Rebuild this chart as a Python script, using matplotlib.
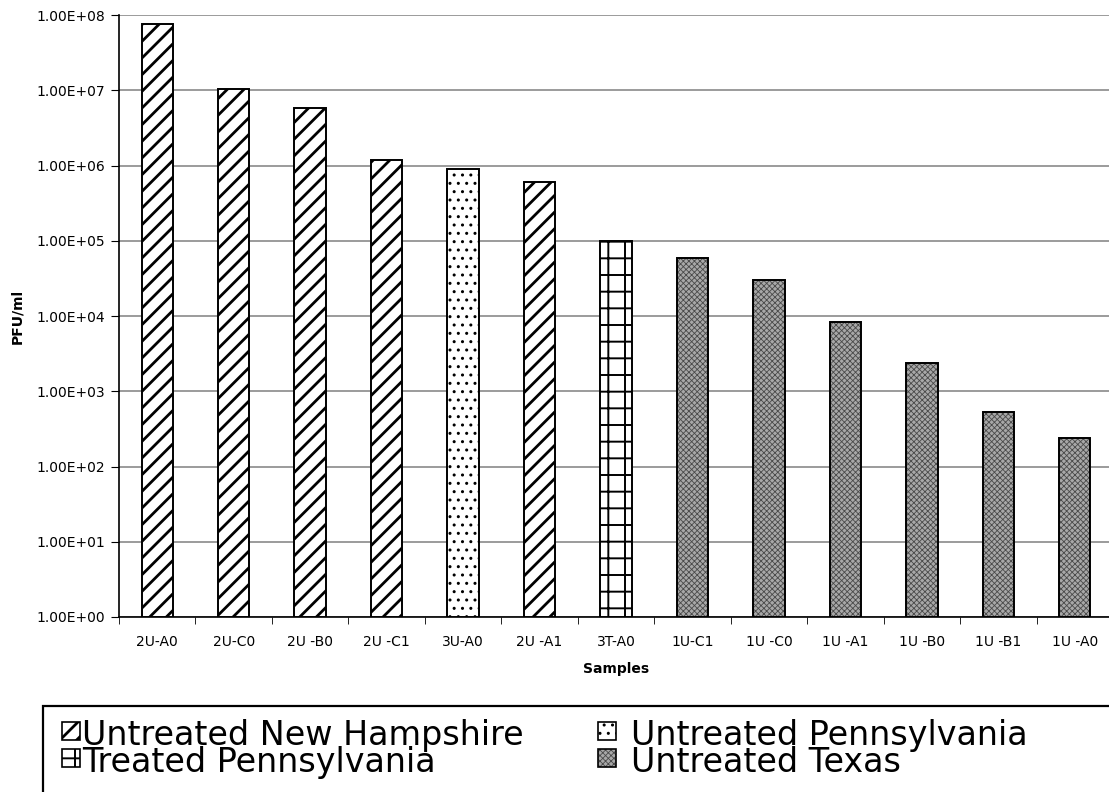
import numpy as np
import matplotlib as mpl
import matplotlib.pyplot as plt
from matplotlib.patches import Rectangle

plt.rcParams['font.family'] = ['DejaVu Sans']

# --- data ---
samples = ['2U-A0', '2U-C0', '2U -B0', '2U -C1', '3U-A0', '2U -A1', '3T-A0',
           '1U-C1', '1U -C0', '1U -A1', '1U -B0', '1U -B1', '1U -A0']
pfu = [7.6e7, 1.05e7, 5.8e6, 1.18e6, 9.0e5, 6.0e5, 1.0e5,
       5.9e4, 3.0e4, 8.3e3, 2.4e3, 5.3e2, 2.4e2]
group = ['NH', 'NH', 'NH', 'NH', 'PA', 'NH', 'TPA',
         'TX', 'TX', 'TX', 'TX', 'TX', 'TX']

group_names = ['NH', 'TPA', 'PA', 'TX']
group_labels = ['Untreated New Hampshire', 'Treated Pennsylvania',
                'Untreated Pennsylvania', 'Untreated Texas']

# fill, hatch, hatch colour, hatch line width
styles = {
    'NH': ('white', '//', 'black', 2.0),
    'PA': ('white', '..', 'black', 1.0),
    'TPA': ('white', '+', 'black', 1.4),
    'TX': ('#a8a8a8', 'xxxxxx', '#4a4a4a', 0.6),
}

W, H = 1109, 792
fig = plt.figure(figsize=(W / 100, H / 100), dpi=100)
ax = fig.add_axes([119 / W, 1 - 617 / H, 994 / W, 602 / H])


def hatched(make, style):
    face, hatch, hcol, hlw = style
    with mpl.rc_context({'hatch.linewidth': hlw}):
        make(facecolor=face, hatch=hatch, edgecolor=hcol, linewidth=0)


x = np.arange(len(samples))
for i in range(len(samples)):
    st = styles[group[i]]
    hatched(lambda **kw: ax.bar(x[i], pfu[i], width=0.41, bottom=1, zorder=3, **kw), st)
    ax.bar(x[i], pfu[i], width=0.41, bottom=1, facecolor='none',
           edgecolor='black', linewidth=1.4, zorder=4)

ax.set_yscale('log')
ax.set_ylim(1, 1e8)
ax.set_xlim(-0.5, len(samples) - 0.5)
ax.set_yticks([10.0 ** k for k in range(9)])
ax.set_yticklabels(['1.00E+%02d' % k for k in range(9)], fontsize=10)
ax.minorticks_off()
ax.yaxis.grid(True, color='#808080', linewidth=1.1, zorder=0)

ax.set_xticks(x)
ax.set_xticklabels(samples, fontsize=10)
ax.tick_params(axis='x', length=0, pad=13)
ax.set_xticks(np.arange(len(samples) + 1) - 0.5, minor=True)
ax.tick_params(axis='x', which='minor', length=5, direction='out')
ax.tick_params(axis='y', length=6, direction='out', pad=4)

for s in ['top', 'right']:
    ax.spines[s].set_visible(False)
ax.spines['left'].set_linewidth(1.2)
ax.spines['bottom'].set_linewidth(1.2)

ax.set_xlabel('Samples', fontsize=10, fontweight='bold', labelpad=9)
ax.set_ylabel('PFU/ml', fontsize=10, fontweight='bold', labelpad=9)

# legend box, running off the right and bottom edges
fig.patches.append(Rectangle((43 / W, -0.05), 1.1, 1 - 706 / H + 0.05,
                             transform=fig.transFigure, facecolor='none',
                             edgecolor='black', linewidth=1.6))

handle_x = [62, 598]
text_x = [82, 631]
row_base = [745, 772]
for k, g in enumerate(group_names):
    col, row = divmod(k, 2)
    hx = handle_x[col]
    hy = row_base[row] - 5
    hatched(lambda **kw: fig.patches.append(
        Rectangle((hx / W, 1 - hy / H), 18 / W, 18 / H,
                  transform=fig.transFigure, **kw)), styles[g])
    fig.patches.append(Rectangle((hx / W, 1 - hy / H), 18 / W, 18 / H,
                                 transform=fig.transFigure, facecolor='none',
                                 edgecolor='black', linewidth=1.2))
    fig.text(text_x[col] / W, 1 - row_base[row] / H, group_labels[k],
             fontsize=24, va='baseline', ha='left')

fig.savefig('out.png', dpi=100)
